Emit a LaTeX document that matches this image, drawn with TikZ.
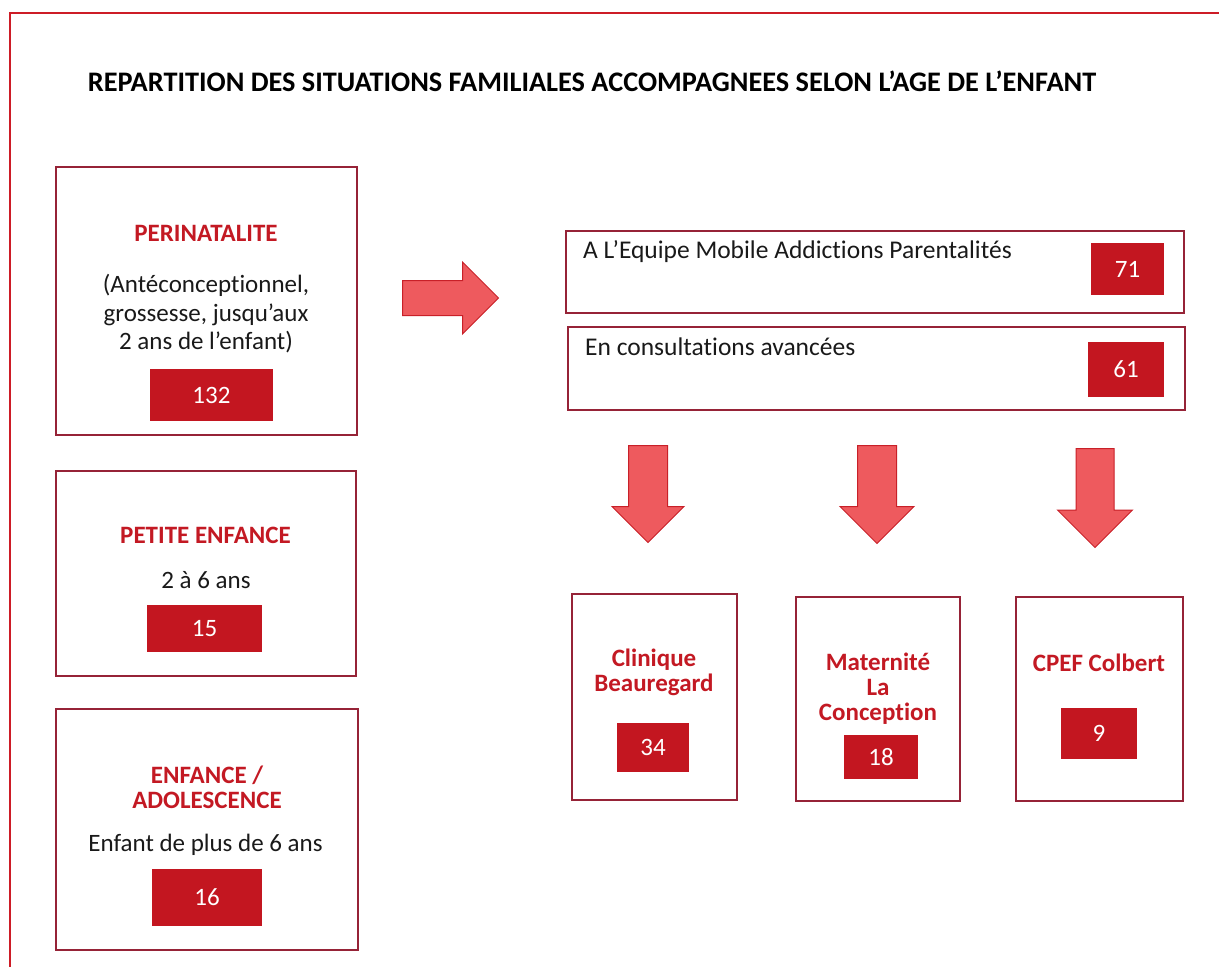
\documentclass[tikz,border=0pt]{standalone}
\usepackage{fontspec}
\setmainfont{Carlito}[Ligatures=NoCommon]
\usepackage{tikz}
\usetikzlibrary{shapes,arrows,positioning}

\definecolor{frameRed}{RGB}{205,28,38}
\definecolor{boxLine}{RGB}{150,35,55}
\definecolor{numRed}{RGB}{195,22,32}
\definecolor{labelRed}{RGB}{195,25,35}
\definecolor{arrowFill}{RGB}{238,90,94}
\definecolor{arrowLine}{RGB}{200,32,40}

\begin{document}
\begin{tikzpicture}[x=1pt, y=-1pt]
			\tikzstyle{Group}	= [rectangle, draw=boxLine, line width=1.2pt, inner sep=0pt]
			\tikzstyle{Count}	= [rectangle, fill=numRed, text=white, inner sep=0pt, font=\fontsize{25}{28}\selectfont]
			\tikzstyle{Head}	= [text=labelRed, inner sep=0pt, align=center, font=\bfseries\fontsize{25}{25}\selectfont]
			\tikzstyle{Body}	= [text=black!90, inner sep=0pt, align=center, font=\fontsize{25}{28.5}\selectfont]
			\tikzstyle{Line}	= [text=black!90, inner sep=0pt, font=\fontsize{25.5}{28}\selectfont]
			\tikzstyle{Flow}	= [single arrow, draw=arrowLine, fill=arrowFill, line width=1pt, inner sep=0pt, single arrow tip angle=90, anchor=tail]

			\useasboundingbox (0,0) rectangle (1219,967);
			\draw [frameRed, line width=2.5pt] (1225,13) -- (10,13) -- (10,975);

			\node (title) at (592,81) [font=\bfseries\fontsize{28.3}{32}\selectfont] {REPARTITION DES SITUATIONS FAMILIALES ACCOMPAGNEES SELON L’AGE DE L’ENFANT};

			% age groups
			\node (peri) at (206.5,301) [Group, minimum width=301pt, minimum height=268pt] {};
			\node (periT) at (206,233.5) [Head] {PERINATALITE};
			\node (periB) at (206,314) [Body] {(Antéconceptionnel,\\ grossesse, jusqu’aux\\ 2 ans de l’enfant)};
			\node (periN) at (211.5,395) [Count, minimum width=123pt, minimum height=52pt] {132};

			\node (petite) at (206,573.5) [Group, minimum width=300pt, minimum height=205pt] {};
			\node (petiteT) at (205.5,535.5) [Head] {PETITE ENFANCE};
			\node (petiteB) at (206,588) [Body, anchor=base] {2 à 6 ans};
			\node (petiteN) at (204.5,628.5) [Count, minimum width=115pt, minimum height=47pt] {15};

			\node (ado) at (207,829.5) [Group, minimum width=302pt, minimum height=241pt] {};
			\node (adoT) at (207,787) [Head] {ENFANCE /\\ ADOLESCENCE};
			\node (adoB) at (205.5,851) [Body, anchor=base] {Enfant de plus de 6 ans};
			\node (adoN) at (207,897.5) [Count, minimum width=110pt, minimum height=57pt] {16};

			% right part
			\node (toRight) at (402,298) [Flow, minimum height=96pt, text height=34pt, text depth=0pt, single arrow head extend=18.5pt] {};

			\node (emap) at (875,272) [Group, minimum width=618pt, minimum height=82pt] {};
			\node (emapT) at (583,258) [Line, anchor=base west] {A L’Equipe Mobile Addictions Parentalités};
			\node (emapN) at (1127.5,269) [Count, minimum width=73pt, minimum height=52pt] {71};

			\node (cons) at (876.5,368.5) [Group, minimum width=617pt, minimum height=83pt] {};
			\node (consT) at (585,355) [Line, anchor=base west] {En consultations avancées};
			\node (consN) at (1126,369.5) [Count, minimum width=76pt, minimum height=55pt] {61};

			\node (down1) at (648,445) [Flow, rotate=-90, minimum height=97pt, text height=38pt, text depth=0pt, single arrow head extend=16.5pt] {};
			\node (down2) at (877,445) [Flow, rotate=-90, minimum height=98pt, text height=38pt, text depth=0pt, single arrow head extend=17.5pt] {};
			\node (down3) at (1095,448) [Flow, rotate=-90, minimum height=99pt, text height=37pt, text depth=0pt, single arrow head extend=18.5pt] {};

			% places
			\node (clin) at (654.5,697) [Group, minimum width=165pt, minimum height=206pt] {};
			\node (clinT) at (654,672) [Head] {Clinique\\ Beauregard};
			\node (clinN) at (653,747.5) [Count, minimum width=72pt, minimum height=49pt] {34};

			\node (mat) at (878,699) [Group, minimum width=164pt, minimum height=204pt] {};
			\node (matT) at (878,689) [Head] {Maternité\\ La\\ Conception};
			\node (matN) at (881,757) [Count, minimum width=74pt, minimum height=44pt] {18};

			\node (cpef) at (1099.5,699) [Group, minimum width=167pt, minimum height=204pt] {};
			\node (cpefT) at (1099,663) [Head] {CPEF Colbert};
			\node (cpefN) at (1099,733.5) [Count, minimum width=76pt, minimum height=51pt] {9};
\end{tikzpicture}
\end{document}
